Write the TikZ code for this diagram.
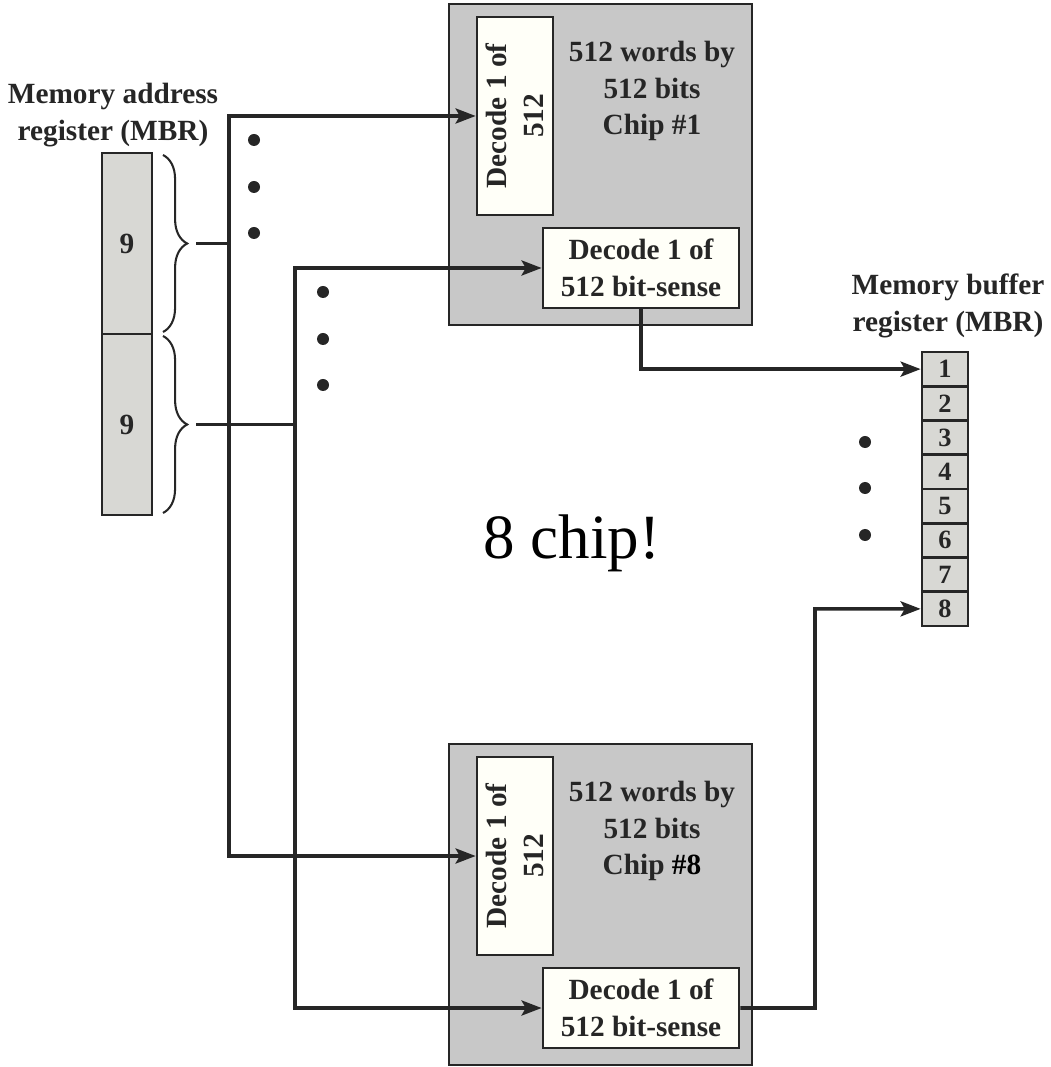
\documentclass[tikz,border=0pt]{standalone}
\usepackage{fontspec}
\setmainfont{Liberation Serif}
\usepackage{tikz}
\usetikzlibrary{arrows.meta,calc,decorations.pathreplacing,positioning}
\definecolor{ink}{HTML}{262626}
\definecolor{chipgray}{HTML}{C8C8C8}
\definecolor{reggray}{HTML}{D8D8D4}
\definecolor{decwhite}{HTML}{FFFFF8}

\begin{document}
\begin{tikzpicture}[x=0.012cm,y=-0.012cm,
  txt/.style={font=\fontsize{10}{12.5}\selectfont\bfseries,text=ink,align=center},
  chip/.style={draw=ink,fill=chipgray,line width=.9pt,inner sep=0,
               minimum width=3.636cm,minimum height=3.852cm},
  dec/.style={draw=ink,fill=decwhite,line width=.9pt,inner sep=0,txt},
  vdec/.style={dec,rotate=90,minimum width=2.376cm,minimum height=.912cm},
  sense/.style={dec,minimum width=2.352cm,minimum height=.96cm},
  acell/.style={draw=ink,fill=reggray,line width=.9pt,inner sep=0,txt,
                minimum width=.6cm,minimum height=2.172cm},
  bcell/.style={draw=ink,fill=reggray,line width=.9pt,inner sep=0,
                minimum width=.552cm,minimum height=.411cm,
                font=\fontsize{9}{9}\selectfont\bfseries,text=ink},
  brc/.style={decorate,decoration={brace,amplitude=.29cm},draw=ink,line width=.7pt},
  arr/.style={draw=ink,line width=1.25pt,
              -{Stealth[length=2.4mm,width=1.8mm,inset=.5mm]}},
  wire/.style={draw=ink,line width=1.25pt}]
  \useasboundingbox (0,0) rectangle (1050,1067);

  % address register
  \node[txt] (alab) at (113,115) {Memory address\\register (MBR)};
  \node[acell] (a1) at (127,243.5) {9};
  \node[acell] (a2) at (127,424.5) {9};
  \draw[brc] (163,155) -- (163,332);
  \draw[brc] (163,336) -- (163,513);
  \coordinate (t1) at (196,243.5);
  \coordinate (t2) at (196,424.5);
  \coordinate (j1) at (229,243.5);
  \coordinate (j2) at (295,424.5);

  % chip #1
  \node[chip] (chip1) at (600.5,164.5) {};
  \node[vdec] (dec1) at (515,116) {Decode 1 of\\512};
  \node[sense] (sense1) at (641,268) {Decode 1 of\\512 bit-sense};
  \node[txt] (w1) at (652,91) {512 words by\\512 bits\\Chip \#1};

  % chip #8
  \node[chip] (chip8) at (600.5,904.5) {};
  \node[vdec] (dec8) at (515,856) {Decode 1 of\\512};
  \node[sense] (sense8) at (641,1008) {Decode 1 of\\512 bit-sense};
  \node[txt] (w8) at (652,831) {512 words by\\512 bits\\Chip {\color{black}\#8}};

  % buffer register
  \foreach \i in {1,...,8}
    \node[bcell] (m\i) at (945,{352+34.25*(\i-.5)}) {\i};
  \node[txt] (blab) at (948,306) {Memory buffer\\register (MBR)};

  % address lines (rotated decode boxes: north is the left side)
  \draw[wire] (t1) -- (j1);
  \draw[wire] (t2) -- (j2);
  \draw[arr] (j1) |- (dec1.north);
  \draw[arr] (j1) |- (dec8.north);
  \draw[arr] (j2) |- (sense1.west);
  \draw[arr] (j2) |- (sense8.west);

  % data lines
  \coordinate (k8) at (815,608.9);
  \draw[arr] (sense1.south) |- (m1.west);
  \draw[arr] (sense8.east) -| (k8) -- (m8.west);

  % dots
  \foreach \y in {140,187,233} \fill[ink] (254,\y) circle (.072cm);
  \foreach \y in {292,339,385} \fill[ink] (323,\y) circle (.072cm);
  \foreach \y in {442,488,535} \fill[ink] (865,\y) circle (.072cm);

  \node[font=\fontsize{21.5}{24}\selectfont] (note) at (572,543) {8 chip!};
\end{tikzpicture}
\end{document}
